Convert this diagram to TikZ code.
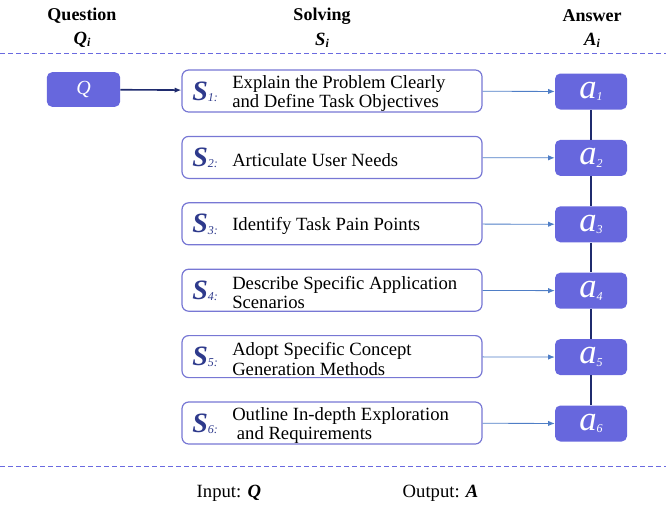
\documentclass[tikz,border=0pt]{standalone}
\usepackage{fontspec}
\setmainfont{Liberation Serif}
\usetikzlibrary{positioning,arrows.meta,calc}
\definecolor{boxfill}{HTML}{6767DD}
\definecolor{boxline}{HTML}{7777D4}
\definecolor{navy}{HTML}{1F2B6E}
\definecolor{linkblue}{HTML}{4F7EC6}
\definecolor{stepink}{HTML}{2E3A8C}
\definecolor{sepline}{HTML}{6A6AE0}
\newcommand{\stepname}[1]{{\fontsize{21}{21}\selectfont\bfseries\itshape S}\raisebox{-1pt}{\fontsize{9}{9}\selectfont\itshape #1:}}
\newcommand{\headsub}[2]{{\bfseries\itshape #1}\raisebox{-1.5pt}{\fontsize{9}{9}\selectfont\bfseries\itshape #2}}

\begin{document}
\begin{tikzpicture}[
    x=0.75pt, y=-0.75pt,
    body/.style={font=\fontsize{14}{14.5}\selectfont},
    head/.style={font=\fontsize{13.5}{14.5}\selectfont\bfseries},
    stepbox/.style={rectangle, rounded corners=5pt, draw=boxline, line width=0.9pt,
                    minimum width=225pt, minimum height=31.5pt, inner sep=0pt},
    ansbox/.style={rectangle, rounded corners=4pt, fill=boxfill, text=white,
                   minimum width=54pt, minimum height=27pt, inner sep=0pt},
    steptext/.style={body, align=left, anchor=west, inner sep=0pt},
    link/.style={linkblue, line width=0.6pt, -{Latex[length=5pt,width=4pt]}},
    chain/.style={navy, line width=1.2pt},
    sep/.style={sepline, line width=0.7pt, dash pattern=on 3.5pt off 2.5pt},
]
\useasboundingbox (0,0) rectangle (666,507);

% column headings
\node[head] (hq) at (82,16) {Question};
\node[head] (hs) at (322,16) {Solving};
\node[head] (ha) at (592,16) {Answer};
\node[body] (hqi) at (82,40) {\headsub{Q}{i}};
\node[body] (hsi) at (322,40) {\headsub{S}{i}};
\node[body] (hai) at (592,40) {\headsub{A}{i}};

% separators
\draw[sep] (0,53) -- (666,53);
\draw[sep] (0,466) -- (666,466);

% question box
\node[ansbox, minimum width=55pt, minimum height=26pt] (q) at (83.5,89.5)
    {\fontsize{15}{15}\selectfont\itshape Q};

% solving steps and their answers
\foreach \i/\txt in {1/{Explain the Problem Clearly\\and Define Task Objectives},
                     2/{Articulate User Needs},
                     3/{Identify Task Pain Points},
                     4/{Describe Specific Application\\Scenarios},
                     5/{Adopt Specific Concept\\Generation Methods},
                     6/{Outline In-depth Exploration\\\ and Requirements}} {
    \pgfmathsetmacro{\ys}{91+66.4*(\i-1)}
    \node[stepbox] (s\i) at (332,\ys) {};
    \node[anchor=base west, inner sep=0pt, text=stepink] (s\i lab) at (192,\ys+9) {\stepname{\i}};
    \node[steptext] (s\i txt) at (232,\ys+2.5) {\txt};
    \node[ansbox] (a\i) at (591,\ys+0.5)
        {\fontsize{26}{26}\selectfont\itshape a\raisebox{-2pt}{\fontsize{9}{9}\selectfont\itshape\i}};
    \draw[link] (s\i) -- (a\i);
}

% links between boxes
\draw[navy, line width=1.2pt, -{Latex[length=5pt,width=4pt]}] (q) -- (s1);
\foreach \i [evaluate=\i as \j using int(\i+1)] in {1,...,5} {
    \draw[chain] (a\i) -- (a\j);
}

% input and output
\node[body, anchor=west] (inp) at (192,493) {Input: \textbf{\textit{Q}}};
\node[body, anchor=west] (outp) at (398,493) {Output: \textbf{\textit{A}}};
\end{tikzpicture}
\end{document}
